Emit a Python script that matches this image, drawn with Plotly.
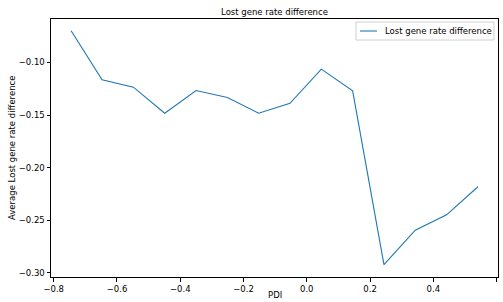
import plotly.graph_objects as go

pdi = [-0.745, -0.647, -0.548, -0.449, -0.350, -0.251, -0.152, -0.053,
       0.046, 0.145, 0.244, 0.343, 0.442, 0.541]
lost_diff = [-0.0698, -0.1165, -0.1235, -0.1483, -0.1267, -0.1334, -0.1483,
             -0.1388, -0.1063, -0.1270, -0.2924, -0.2597, -0.2450, -0.2183]
x_ticks = [-0.8, -0.6, -0.4, -0.2, 0.0, 0.2, 0.4, 0.6]
y_ticks = [-0.30, -0.25, -0.20, -0.15, -0.10]
series_name = "Lost gene rate difference"
title = "Lost gene rate difference"
x_title = "PDI"
y_title = "Average Lost gene rate difference"

font = "DejaVu Sans"
line_color = "#1f77b4"

# plot area in pixels
L, R, T, B = 51, 498, 19, 277
W, H = R - L, B - T


def px(x):
    return (x - L) / W


def py(y):
    return (B - y) / H


fig = go.Figure()
fig.add_trace(go.Scatter(x=pdi, y=lost_diff, mode="lines", name=series_name,
                         line=dict(color=line_color, width=1.1), showlegend=False))

axis_common = dict(showgrid=False, zeroline=False, showline=True, linecolor="black",
                   linewidth=1, mirror=True, ticks="outside", ticklen=3.5,
                   tickwidth=0.8, tickcolor="black",
                   tickfont=dict(family=font, size=8.5, color="black"))

fig.update_layout(
    width=503, height=302,
    margin=dict(l=L, r=503 - R, t=T, b=302 - B),
    paper_bgcolor="white", plot_bgcolor="white",
    font=dict(family=font, color="black"),
    title=dict(text=title, x=(L + R) / 2 / 503, xanchor="center",
               y=1 - 12 / 302, yanchor="middle", yref="container",
               font=dict(family=font, size=8.5, color="black")),
    xaxis=dict(range=[-0.8085, 0.6045], tickvals=x_ticks, tickformat=".1f", **axis_common),
    yaxis=dict(range=[-0.3042, -0.0586], tickvals=y_ticks, tickformat=".2f", **axis_common),
    showlegend=False,
    shapes=[
        dict(type="rect", xref="paper", yref="paper", x0=px(356), x1=px(494),
             y0=py(40), y1=py(22), line=dict(color="#d0d0d0", width=1),
             fillcolor="rgba(255,255,255,0.8)", layer="above"),
        dict(type="line", xref="paper", yref="paper", x0=px(360), x1=px(377),
             y0=py(31), y1=py(31), line=dict(color=line_color, width=1.1), layer="above"),
    ],
    annotations=[
        dict(text=series_name, xref="paper", yref="paper", x=px(382.5), y=py(31),
             xanchor="left", yanchor="middle", showarrow=False,
             font=dict(family=font, size=8.5, color="black")),
        dict(text=x_title, xref="paper", yref="paper", x=0.5, y=0, xanchor="center",
             yanchor="middle", yshift=-18, showarrow=False,
             font=dict(family=font, size=8.5, color="black")),
        dict(text=y_title, xref="paper", yref="paper", x=0, y=0.5, xanchor="center",
             yanchor="middle", xshift=-39, textangle=-90, showarrow=False,
             font=dict(family=font, size=8.5, color="black")),
    ],
)

fig.write_html("out.html", config={"displayModeBar": False},
               post_script="document.body.style.margin='0px';document.body.style.padding='0px';")
